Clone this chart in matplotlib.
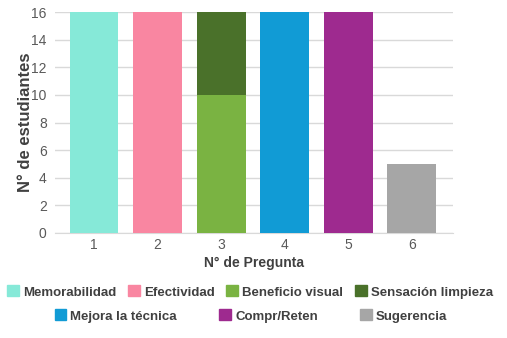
import numpy as np
import matplotlib.pyplot as plt
from matplotlib.patches import Patch

plt.rcParams['font.family'] = ['Liberation Sans', 'DejaVu Sans']

preguntas = [1, 2, 3, 4, 5, 6]
series = ['Memorabilidad', 'Efectividad', 'Beneficio visual', 'Sensación limpieza',
          'Mejora la técnica', 'Compr/Reten', 'Sugerencia']
# question each series belongs to, and number of students
pregunta_de = [1, 2, 3, 3, 4, 5, 6]
valores = [16, 16, 10, 6, 16, 16, 5]
colores = ['#86E9D8', '#F986A1', '#7AB342', '#4A712A', '#119BD5', '#9E2A8F', '#A6A6A6']

fig = plt.figure(figsize=(5.07, 3.38), dpi=100)
ax = fig.add_axes([55/507, 1 - 233/338, 398/507, 221/338])

base = {p: 0 for p in preguntas}
for nombre, p, v, c in zip(series, pregunta_de, valores, colores):
    ax.bar(p, v, bottom=base[p], width=0.77, color=c, label=nombre, zorder=3)
    base[p] += v

ax.set_xlim(0.386, 6.65)
ax.set_ylim(0, 16)
ax.set_yticks(range(0, 17, 2))
ax.set_xticks(preguntas)
ax.grid(axis='y', color='#D9D9D9', linewidth=1, zorder=0)
for s in ['top', 'right', 'left']:
    ax.spines[s].set_visible(False)
ax.spines['bottom'].set_color('#D9D9D9')
ax.tick_params(length=0, colors='#595959', labelsize=10)
ax.tick_params(axis='y', pad=6)
ax.set_ylabel('N° de estudiantes', fontsize=12, fontweight='bold', color='#404040', labelpad=-1)
ax.set_xlabel('N° de Pregunta', fontsize=10, fontweight='bold', color='#404040', labelpad=3)

handles = [Patch(color=c) for c in colores]
kw = dict(frameon=False, handlelength=0.9, handleheight=0.9, handletextpad=0.3,
          prop={'weight': 'bold', 'size': 9.5}, labelcolor='#404040')
fig.legend(handles[:4], series[:4], loc='center', ncol=4, columnspacing=0.9,
           bbox_to_anchor=(0.493, 1 - 292/338), **kw)
fig.legend(handles[4:], series[4:], loc='center', ncol=3, columnspacing=3.2,
           bbox_to_anchor=(0.495, 1 - 316/338), **kw)

fig.savefig('out.png', dpi=100)
